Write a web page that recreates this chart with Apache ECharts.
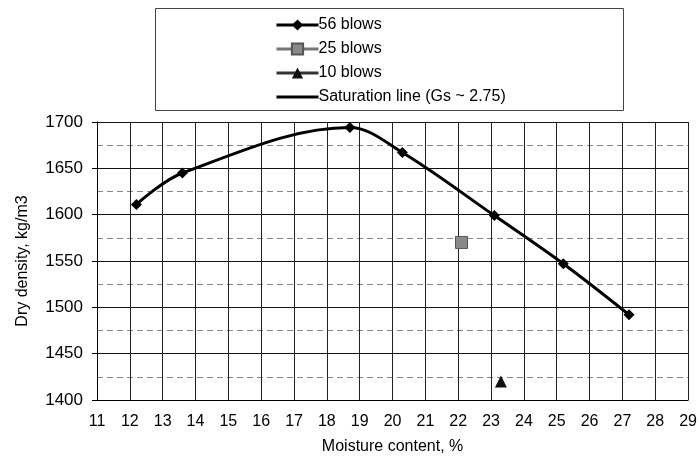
<!DOCTYPE html>
<html><head><meta charset="utf-8">
<script src="https://cdn.jsdelivr.net/npm/echarts@6/dist/echarts.min.js"></script>
<style>html,body{margin:0;padding:0;background:#fff}#c{width:700px;height:466px}</style>
</head><body><div id="c"></div>
<script>
const moisture56 = [12.2, 13.6, 18.7, 20.3, 23.1, 25.2, 27.2];
const density56 = [1611, 1645, 1694, 1667, 1599, 1547, 1492];
const moisture25 = [22.1];
const density25 = [1570];
const moisture10 = [23.3];
const density10 = [1420];
const seriesNames = ['56 blows', '25 blows', '10 blows', 'Saturation line (Gs ~ 2.75)'];
const xTicks = {min: 11, max: 29, interval: 1};
const yTicks = {min: 1400, max: 1700, interval: 50};

const zip = (a, b) => a.map((v, i) => [v, b[i]]);
const FONT = 'Liberation Sans';
const chart = echarts.init(document.getElementById('c'), null, {renderer: 'canvas'});
chart.setOption({
  animation: false,
  backgroundColor: '#fff',
  textStyle: {fontFamily: FONT, color: '#000'},
  graphic: [{
    type: 'rect', left: 153, top: 6, shape: {width: 468, height: 102},
    style: {fill: 'none', stroke: '#444', lineWidth: 1}, z: 0
  }],
  legend: {
    orient: 'vertical', left: 270, top: 12, itemGap: 8, itemWidth: 42, itemHeight: 14,
    lineStyle: {width: 3},
    data: [
      {name: seriesNames[0]}, {name: seriesNames[1]}, {name: seriesNames[2]},
      {name: seriesNames[3], icon: 'path://M0,0 L42,0 L42,3 L0,3 Z', itemStyle: {color: '#000'}}
    ],
    textStyle: {fontFamily: FONT, fontSize: 16, color: '#000', padding: [0, 0, 0, -5]}
  },
  grid: {left: 97, right: 8, top: 122, bottom: 66, containLabel: false},
  xAxis: {
    type: 'value', min: xTicks.min, max: xTicks.max, interval: xTicks.interval,
    name: 'Moisture content, %', nameLocation: 'middle', nameGap: 39,
    nameTextStyle: {fontFamily: FONT, fontSize: 16, color: '#000'},
    axisLine: {show: true, lineStyle: {color: '#000', width: 1}},
    axisTick: {show: false},
    axisLabel: {fontFamily: FONT, fontSize: 16, color: '#000', margin: 14, showMaxLabel: true},
    splitLine: {show: true, lineStyle: {color: '#222', width: 1}}
  },
  yAxis: {
    type: 'value', min: yTicks.min, max: yTicks.max, interval: yTicks.interval,
    name: 'Dry density, kg/m3', nameLocation: 'middle', nameGap: 66,
    nameTextStyle: {fontFamily: FONT, fontSize: 16, color: '#000'},
    axisLine: {show: true, lineStyle: {color: '#000', width: 1}},
    axisTick: {show: true, length: 5, inside: false, lineStyle: {color: '#000'}},
    axisLabel: {fontFamily: FONT, fontSize: 17, color: '#000', margin: 14, formatter: v => String(v)},
    splitLine: {show: true, lineStyle: {color: '#111', width: 1}},
    minorTick: {show: false, splitNumber: 2},
    minorSplitLine: {show: true, lineStyle: {color: '#888', width: 1, type: [6, 4]}}
  },
  series: [
    {name: seriesNames[0], type: 'line', smooth: 0.35, data: zip(moisture56, density56),
     symbol: 'diamond', symbolSize: 11, lineStyle: {color: '#000', width: 3},
     itemStyle: {color: '#000'}, z: 5},
    {name: seriesNames[1], type: 'line', data: zip(moisture25, density25),
     symbol: 'rect', symbolSize: 12, lineStyle: {color: '#777', width: 3},
     itemStyle: {color: '#8a8a8a', borderColor: '#555', borderWidth: 1}, z: 5},
    {name: seriesNames[2], type: 'line', data: zip(moisture10, density10),
     symbol: 'triangle', symbolSize: 12, lineStyle: {color: '#333', width: 3},
     itemStyle: {color: '#111'}, z: 5},
    {name: seriesNames[3], type: 'line', data: [], symbol: 'none',
     lineStyle: {color: '#000', width: 3}, itemStyle: {color: '#000'}}
  ]
});
</script></body></html>
